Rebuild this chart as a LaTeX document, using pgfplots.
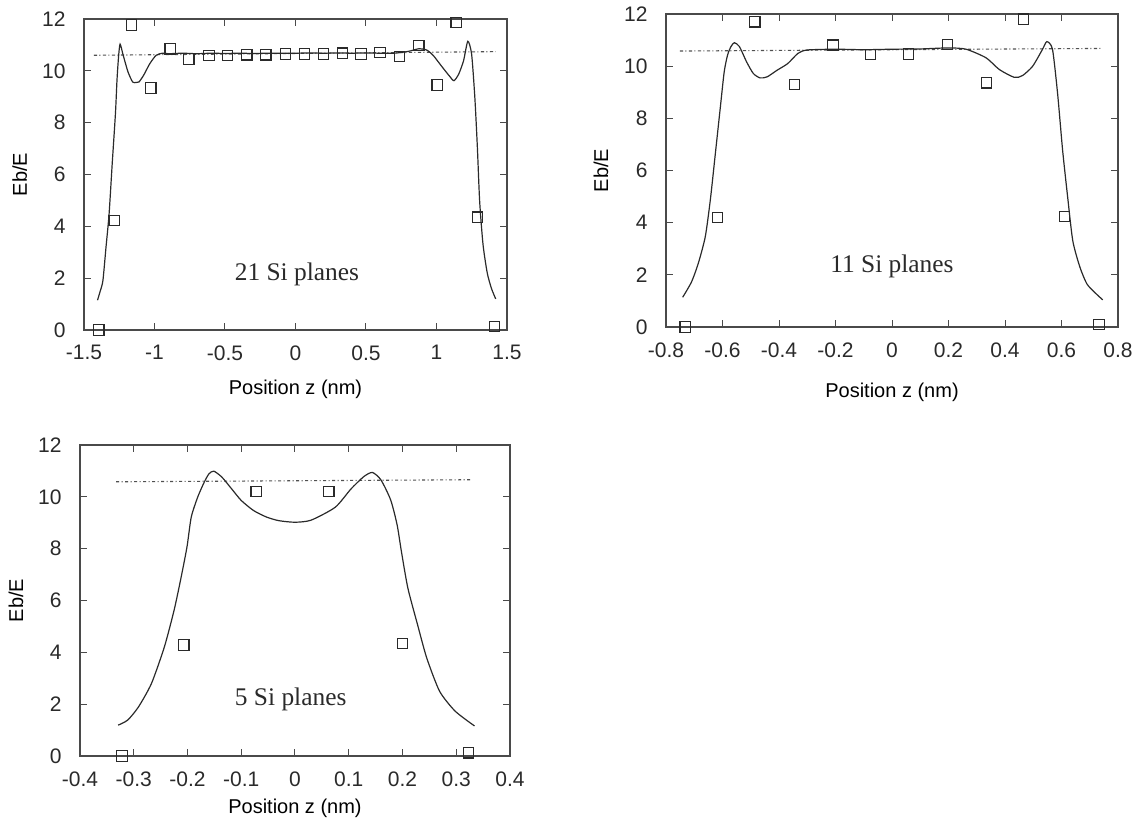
\documentclass[border=0pt]{standalone}
\usepackage{fontspec}
\setmainfont{Liberation Sans}
\newfontfamily\timesfont{Liberation Serif}
\usepackage{pgfplots}
\pgfplotsset{compat=1.18}
\definecolor{frame}{HTML}{4A4A4A}
\definecolor{ink}{HTML}{2A2A2A}
\definecolor{dotc}{HTML}{505050}
\pgfplotsset{
  panel/.style={
    scale only axis, anchor=south west, clip=false,
    axis line style={frame, line width=0.8pt},
    tick align=inside, major tick length=3.5pt,
    every tick/.style={frame, line width=0.5pt},
    ymin=0, ymax=12, ytick={0,2,4,6,8,10,12}, yticklabels={0,2,4,6,8,10,12},
    tick label style={font=\fontsize{10.5}{12}\selectfont, text=ink},
    xticklabel style={anchor=north, inner sep=0pt, yshift=-7.5pt},
    yticklabel style={anchor=east, inner sep=0pt, xshift=-9pt},
    ylabel={Eb/E}, xlabel={Position z (nm)},
    label style={font=\fontsize{11}{13}\selectfont, text=ink},
  },
  sq/.style={only marks, mark=square, mark size=2.6pt, mark options={draw=ink, line width=0.6pt, fill=none}},
  crv/.style={ink, line width=0.6pt, smooth, tension=0.4, no marks},
  dd/.style={dotc, line width=0.55pt, dash pattern=on 1.6pt off 1.2pt on 0.5pt off 1.2pt, no marks},
}
\begin{document}
\begin{tikzpicture}
\path[use as bounding box] (0,0) rectangle (568.5pt,412.5pt);
% ---------- 21 Si planes ----------
\begin{axis}[panel, at={(42pt,247.5pt)}, width=211.5pt, height=155.5pt,
  xmin=-1.5, xmax=1.5, xtick={-1.5,-1,-0.5,0,0.5,1,1.5},
  xticklabels={-1.5,-1,-0.5,0,0.5,1,1.5},
  every axis y label/.style={at={(axis description cs:-0.152,0.5)}, rotate=90, anchor=center},
  every axis x label/.style={at={(axis description cs:0.5,-0.19)}, anchor=center}]
\addplot[dd] coordinates {(-1.43,10.6) (1.42,10.74)};
\addplot[crv] coordinates {
(-1.404,1.15) (-1.385,1.5) (-1.366,1.9) (-1.344,3.19) (-1.322,4.48) (-1.3,6.41)
(-1.277,8.35) (-1.266,9.64) (-1.255,10.54) (-1.244,11.03) (-1.222,10.6) (-1.188,9.96)
(-1.155,9.57) (-1.13,9.55) (-1.11,9.57) (-1.077,9.83) (-1.033,10.28) (-0.988,10.6)
(-0.944,10.68) (-0.9,10.66) (-0.8,10.68) (-0.7,10.66) (-0.6,10.68) (-0.5,10.67)
(-0.4,10.68) (-0.3,10.67) (-0.2,10.68) (-0.1,10.68) (0,10.68) (0.1,10.69) (0.2,10.68)
(0.3,10.69) (0.4,10.68) (0.5,10.69) (0.6,10.68) (0.7,10.68) (0.8,10.75) (0.874,10.85)
(0.931,10.8) (0.976,10.6) (1.033,10.2) (1.09,9.81) (1.124,9.62) (1.158,9.88)
(1.192,10.39) (1.222,11.14) (1.249,10.65) (1.272,8.97) (1.29,7.04) (1.306,4.98)
(1.33,3.3) (1.36,2.2) (1.39,1.6) (1.42,1.2)};
\addplot[sq] coordinates {
(-1.395,0) (-1.286,4.22) (-1.162,11.77) (-1.026,9.34) (-0.888,10.84) (-0.757,10.46)
(-0.614,10.59) (-0.483,10.59) (-0.345,10.62) (-0.210,10.62) (-0.071,10.65) (0.064,10.65)
(0.2,10.65) (0.333,10.68) (0.464,10.65) (0.6,10.71) (0.738,10.56) (0.874,10.97)
(1.005,9.45) (1.14,11.87) (1.29,4.35) (1.41,0.13)};
\node[font=\timesfont\fontsize{12.7}{14}\selectfont, text=ink] at (axis cs:0.01,2.16) {21 Si planes};
\end{axis}
% ---------- 11 Si planes ----------
\begin{axis}[panel, at={(333pt,249pt)}, width=226pt, height=156.5pt,
  xmin=-0.8, xmax=0.8, xtick={-0.8,-0.6,-0.4,-0.2,0,0.2,0.4,0.6,0.8},
  xticklabels={-0.8,-0.6,-0.4,-0.2,0,0.2,0.4,0.6,0.8},
  every axis y label/.style={at={(axis description cs:-0.144,0.5)}, rotate=90, anchor=center},
  every axis x label/.style={at={(axis description cs:0.5,-0.208)}, anchor=center}]
\addplot[dd] coordinates {(-0.751,10.58) (0.746,10.68)};
\addplot[crv] coordinates {
(-0.741,1.14) (-0.71,1.72) (-0.686,2.43) (-0.661,3.46) (-0.643,4.88) (-0.625,6.68)
(-0.607,8.49) (-0.594,9.78) (-0.582,10.43) (-0.57,10.75) (-0.558,10.9) (-0.54,10.75)
(-0.515,10.17) (-0.491,9.72) (-0.467,9.55) (-0.442,9.59) (-0.406,9.85) (-0.369,10.1)
(-0.333,10.49) (-0.3,10.62) (-0.2,10.65) (-0.1,10.63) (0,10.65) (0.1,10.66) (0.2,10.7)
(0.262,10.65) (0.333,10.32) (0.38,9.87) (0.433,9.57) (0.462,9.64) (0.498,10.0)
(0.533,10.65) (0.548,10.94) (0.568,10.65) (0.586,8.97) (0.604,6.77) (0.622,4.96)
(0.64,3.3) (0.665,2.3) (0.69,1.65) (0.72,1.3) (0.746,1.04)};
\addplot[sq] coordinates {
(-0.732,0) (-0.618,4.2) (-0.486,11.7) (-0.345,9.3) (-0.209,10.8) (-0.076,10.44)
(0.059,10.47) (0.197,10.83) (0.335,9.36) (0.466,11.8) (0.61,4.24) (0.733,0.1)};
\node[font=\timesfont\fontsize{12.7}{14}\selectfont, text=ink] at (axis cs:0.0,2.33) {11 Si planes};
\end{axis}
% ---------- 5 Si planes ----------
\begin{axis}[panel, at={(40pt,34.5pt)}, width=215pt, height=155.5pt,
  xmin=-0.4, xmax=0.4, xtick={-0.4,-0.3,-0.2,-0.1,0,0.1,0.2,0.3,0.4},
  xticklabels={-0.4,-0.3,-0.2,-0.1,0,0.1,0.2,0.3,0.4},
  every axis y label/.style={at={(axis description cs:-0.149,0.5)}, rotate=90, anchor=center},
  every axis x label/.style={at={(axis description cs:0.5,-0.167)}, anchor=center}]
\addplot[dd] coordinates {(-0.333,10.58) (0.329,10.66)};
\addplot[crv] coordinates {
(-0.329,1.19) (-0.311,1.39) (-0.291,1.9) (-0.267,2.8) (-0.243,4.21) (-0.225,5.62)
(-0.213,6.78) (-0.201,8.06) (-0.193,9.22) (-0.181,9.99) (-0.169,10.56) (-0.16,10.89)
(-0.151,10.99) (-0.136,10.76) (-0.118,10.31) (-0.1,9.86) (-0.077,9.47) (-0.053,9.22)
(-0.03,9.08) (0,9.02) (0.03,9.1) (0.075,9.6) (0.104,10.3) (0.128,10.78) (0.144,10.94)
(0.16,10.65) (0.178,9.88) (0.19,8.92) (0.198,7.89) (0.21,6.48) (0.228,5.07)
(0.245,3.79) (0.269,2.5) (0.298,1.73) (0.334,1.16)};
\addplot[sq] coordinates {
(-0.322,0) (-0.207,4.28) (-0.072,10.2) (0.063,10.2) (0.2,4.34) (0.323,0.12)};
\node[font=\timesfont\fontsize{12.7}{14}\selectfont, text=ink] at (axis cs:-0.008,2.2) {5 Si planes};
\end{axis}
\end{tikzpicture}
\end{document}
